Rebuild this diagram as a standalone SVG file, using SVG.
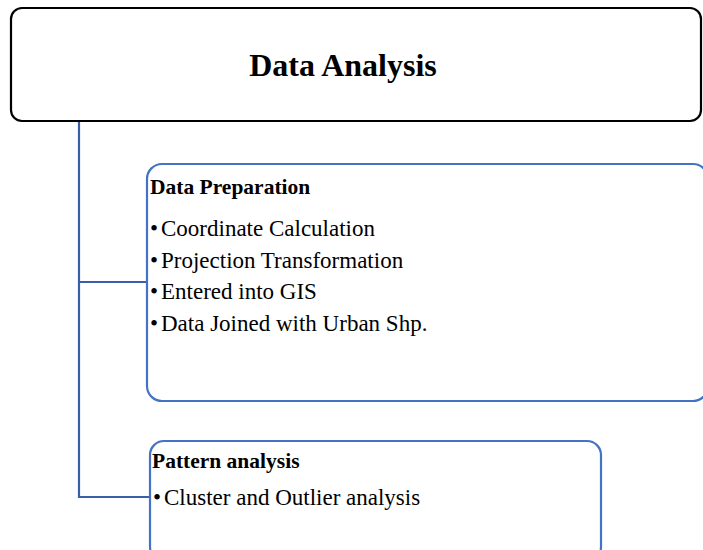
<svg xmlns="http://www.w3.org/2000/svg" width="703" height="550" viewBox="0 0 703 550">
<style>
.t{font-family:"Liberation Serif","Times New Roman",serif;fill:#000}
.h{font-weight:bold;font-size:21.5px}
.b{font-size:23px}
.child{fill:#fff;stroke:#4472C4;stroke-width:2.2}
.conn{fill:none;stroke:#3A5FA8;stroke-width:2.2}
</style>
<rect width="703" height="550" fill="#fff"/>
<g id="connectors">
<path class="conn" d="M79 121 V497 H150 M79 282 H147"/>
</g>
<g id="root">
<rect x="11" y="8" width="690" height="113" rx="11" ry="11" fill="#fff" stroke="#000" stroke-width="2.2"/>
<text class="t" x="343" y="76" text-anchor="middle" font-size="32" font-weight="bold">Data Analysis</text>
</g>
<g id="prep">
<rect class="child" x="147" y="164" width="561" height="237" rx="15" ry="15"/>
<text class="t h" x="150" y="194">Data Preparation</text>
<text class="t b" y="236"><tspan x="150">•</tspan><tspan x="161">Coordinate Calculation</tspan></text>
<text class="t b" y="268"><tspan x="150">•</tspan><tspan x="161">Projection Transformation</tspan></text>
<text class="t b" y="299"><tspan x="150">•</tspan><tspan x="161">Entered into GIS</tspan></text>
<text class="t b" y="331"><tspan x="150">•</tspan><tspan x="161">Data Joined with Urban Shp.</tspan></text>
</g>
<g id="pattern">
<rect class="child" x="150" y="441" width="451" height="120" rx="14" ry="14"/>
<text class="t h" x="152" y="468">Pattern analysis</text>
<text class="t b" y="505"><tspan x="153">•</tspan><tspan x="164">Cluster and Outlier analysis</tspan></text>
</g>
</svg>
